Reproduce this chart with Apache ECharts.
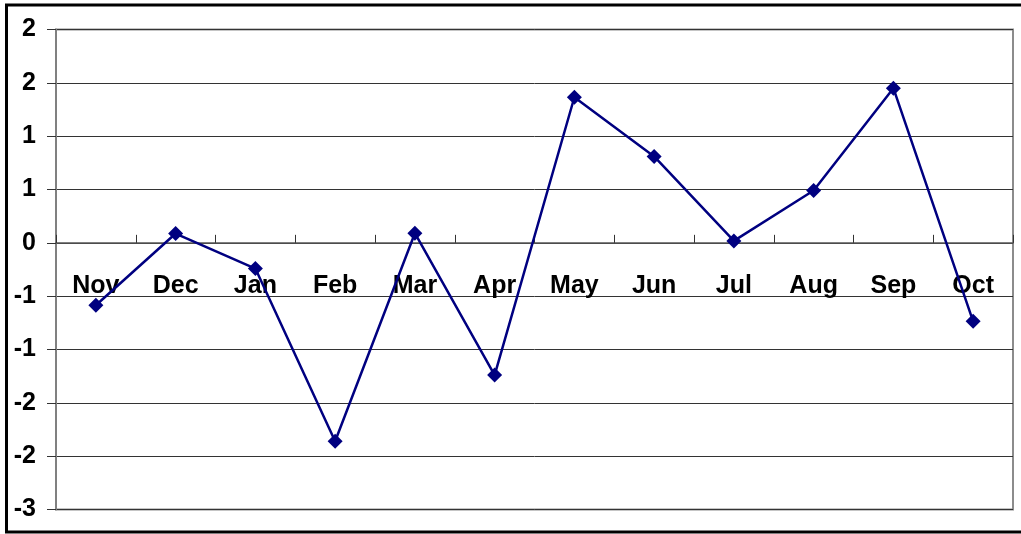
<!DOCTYPE html>
<html>
<head>
<meta charset="utf-8">
<script src="https://cdn.jsdelivr.net/npm/echarts@6/dist/echarts.min.js"></script>
<style>
html,body{margin:0;padding:0;background:#fff;}
#chart{width:1021px;height:534px;}
</style>
</head>
<body>
<div id="chart"></div>
<script>
var categories = ['Nov','Dec','Jan','Feb','Mar','Apr','May','Jun','Jul','Aug','Sep','Oct'];
var values = [-0.585, 0.087, -0.241, -1.86, 0.09, -1.24, 1.365, 0.81, 0.018, 0.49, 1.45, -0.736];
var yTickValues = [-2.5, -2, -1.5, -1, -0.5, 0, 0.5, 1, 1.5, 2];
var yTickLabels = ['-3', '-2', '-2', '-1', '-1', '0', '1', '1', '2', '2'];

var chart = echarts.init(document.getElementById('chart'), null, {renderer: 'canvas'});
var font = '"Liberation Sans", Arial, sans-serif';
chart.setOption({
  backgroundColor: '#ffffff',
  animation: false,
  graphic: [{
    type: 'rect',
    shape: {x: 6.5, y: 5, width: 1030, height: 527},
    style: {fill: 'none', stroke: '#000', lineWidth: 3},
    silent: true
  }],
  grid: {
    left: 56, right: 8, top: 29.5, bottom: 24.5,
    containLabel: false, outerBoundsMode: 'none',
    show: true, borderColor: '#8c8c8c', borderWidth: 2, backgroundColor: '#fff'
  },
  xAxis: {
    type: 'category',
    data: categories,
    boundaryGap: true,
    axisLine: {onZero: true, lineStyle: {color: '#555', width: 1.5}},
    axisTick: {show: true, length: -8, inside: false, alignWithLabel: false, lineStyle: {color: '#333', width: 1}},
    axisLabel: {color: '#000', fontWeight: 'bold', fontSize: 25, fontFamily: font, margin: -236, interval: 0},
    splitLine: {show: false}
  },
  yAxis: {
    type: 'value',
    min: -2.5, max: 2, interval: 0.5,
    axisLine: {show: true, lineStyle: {color: '#808080', width: 2}},
    axisTick: {show: true, length: 9, lineStyle: {color: '#333', width: 1}},
    axisLabel: {
      color: '#000', fontWeight: 'bold', fontSize: 25, fontFamily: font, margin: 20,
      formatter: function (v) {
        for (var i = 0; i < yTickValues.length; i++) {
          if (Math.abs(yTickValues[i] - v) < 1e-6) return yTickLabels[i];
        }
        return '';
      }
    },
    splitLine: {show: true, lineStyle: {color: '#333', width: 1}}
  },
  series: [{
    type: 'line',
    data: values,
    symbol: 'diamond',
    symbolSize: 15,
    lineStyle: {color: '#000080', width: 2.5},
    itemStyle: {color: '#000080'},
    z: 5
  }]
});
</script>
</body>
</html>
